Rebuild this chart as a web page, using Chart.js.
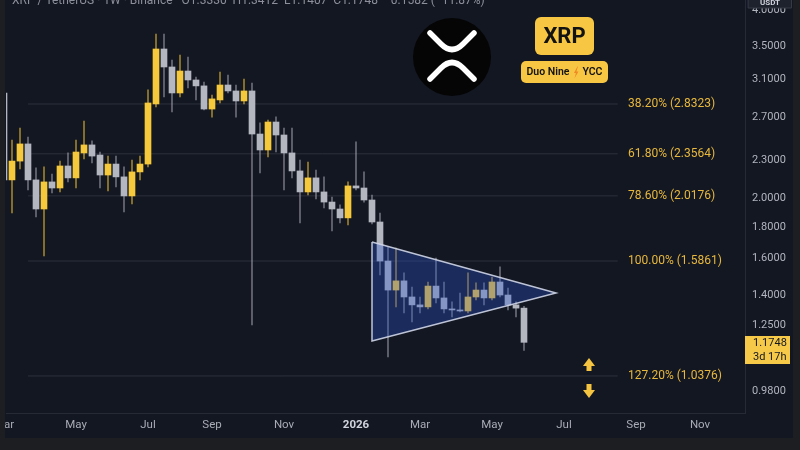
<!DOCTYPE html>
<html><head><meta charset="utf-8">
<script src="https://cdn.jsdelivr.net/npm/chart.js@4.4.1/dist/chart.umd.min.js"></script>
<style>html,body{margin:0;padding:0;background:#1d1e22;}canvas{display:block;}</style>
</head><body>
<canvas id="c" width="800" height="450"></canvas>
<script>
// ---------- DATA ----------
const weeks = [
 '2025-03-03','2025-03-10','2025-03-17','2025-03-24','2025-03-31','2025-04-07','2025-04-14','2025-04-21','2025-04-28',
 '2025-05-05','2025-05-12','2025-05-19','2025-05-26','2025-06-02','2025-06-09','2025-06-16','2025-06-23','2025-06-30',
 '2025-07-07','2025-07-14','2025-07-21','2025-07-28','2025-08-04','2025-08-11','2025-08-18','2025-08-25',
 '2025-09-01','2025-09-08','2025-09-15','2025-09-22','2025-09-29','2025-10-06','2025-10-13','2025-10-20','2025-10-27',
 '2025-11-03','2025-11-10','2025-11-17','2025-11-24','2025-12-01','2025-12-08','2025-12-15','2025-12-22','2025-12-29',
 '2026-01-05','2026-01-12','2026-01-19','2026-01-26','2026-02-02','2026-02-09','2026-02-16','2026-02-23',
 '2026-03-02','2026-03-09','2026-03-16','2026-03-23','2026-03-30','2026-04-06','2026-04-13','2026-04-20','2026-04-27',
 '2026-05-04','2026-05-11','2026-05-18','2026-05-25','2026-06-01'
];
const opens  = [2.950,2.140,2.294,2.444,2.140,1.922,2.124,2.077,2.253,2.156,2.364,2.435,2.346,2.179,2.269,2.164,2.017,2.204,2.269,2.833,3.470,3.247,2.950,3.199,3.095,3.028,2.780,2.875,3.038,2.972,2.864,2.972,2.535,2.390,2.650,2.526,2.364,2.212,2.047,2.156,2.047,1.972,1.922,1.860,2.093,2.077,1.987,1.832,1.586,1.425,1.474,1.389,1.349,1.339,1.446,1.384,1.329,1.324,1.319,1.389,1.425,1.384,1.468,1.399,1.349,1.3330];
const highs  = [2.990,2.480,2.592,2.507,2.237,2.245,2.187,2.294,2.364,2.480,2.660,2.471,2.372,2.337,2.337,2.245,2.303,2.337,2.983,3.667,3.667,3.332,3.394,3.369,3.129,3.072,2.928,3.187,3.152,3.038,3.106,3.061,2.641,2.670,2.700,2.592,2.592,2.303,2.286,2.220,2.164,2.009,1.951,2.124,2.462,2.204,2.024,1.894,1.670,1.664,1.518,1.441,1.389,1.468,1.604,1.468,1.364,1.409,1.518,1.463,1.463,1.495,1.552,1.436,1.364,1.3412];
const lows   = [2.050,1.894,2.228,2.062,1.867,1.616,2.039,2.047,2.124,2.077,2.312,2.278,2.077,2.054,2.085,1.901,1.958,2.140,2.245,2.802,2.907,2.750,2.907,3.005,2.875,2.770,2.699,2.843,2.950,2.699,2.833,1.253,2.196,2.329,2.372,2.062,2.156,1.826,2.024,1.994,1.929,1.772,1.826,1.812,2.062,1.972,1.819,1.507,1.113,1.339,1.309,1.267,1.309,1.329,1.359,1.309,1.290,1.314,1.309,1.374,1.349,1.374,1.389,1.324,1.290,1.1407];
const closes = [2.140,2.294,2.444,2.140,1.922,2.124,2.077,2.253,2.156,2.372,2.435,2.337,2.179,2.269,2.164,2.017,2.204,2.269,2.843,3.470,3.247,2.950,3.199,3.095,3.028,2.780,2.886,3.038,2.972,2.864,2.972,2.535,2.390,2.650,2.526,2.364,2.212,2.047,2.156,2.047,1.972,1.922,1.860,2.093,2.077,1.987,1.832,1.586,1.425,1.474,1.389,1.349,1.339,1.446,1.384,1.329,1.324,1.319,1.389,1.425,1.384,1.468,1.399,1.349,1.333,1.1748];

const axisTickDates  = ['2025-03-03','2025-05-05','2025-07-07','2025-09-01','2025-11-03','2026-01-05','2026-03-02','2026-05-04','2026-07-06','2026-09-07','2026-11-02'];
const axisTickLabels = ['Mar','May','Jul','Sep','Nov','2026','Mar','May','Jul','Sep','Nov'];
const priceTicks = [4.0,3.5,3.1,2.7,2.3,2.0,1.8,1.6,1.4,1.25,1.1,0.98];

const fibLevels = ['38.20%','61.80%','78.60%','100.00%','127.20%'];
const fibPrices = [2.8323,2.3564,2.0176,1.5861,1.0376];
const fibSpan = ['2025-03-24','2026-08-22'];

const triangleDates  = ['2026-01-19','2026-01-19','2026-06-29','2026-01-19'];
const trianglePrices = [1.701,1.181,1.409,1.701];

const lastPrice = '1.1748';
const timeLeft = '3d 17h';
const headerText = 'XRP / TetherUS · 1W · Binance   O1.3330  H1.3412  L1.1407  C1.1748  −0.1582 (−11.87%)';

// ---------- HELPERS ----------
const BASE = Date.parse('2025-03-10');
const wk = d => (Date.parse(d) - BASE) / (7 * 864e5);
const UP = '#f6c83b', DOWN = '#b4b7c0';
const UPW = 'rgba(246,200,59,0.6)', DOWNW = 'rgba(180,183,192,0.55)';
const isUp = i => closes[i] >= opens[i];
const FONT = 'Roboto, "Liberation Sans", sans-serif';

const bgPlugin = {
  id: 'bg',
  beforeDraw(chart) {
    const c = chart.ctx;
    c.save();
    c.fillStyle = '#1d1e22';
    c.fillRect(0, 0, 800, 450);
    c.fillStyle = '#131722';
    c.fillRect(5, 0, 788, 438);
    c.restore();
  }
};

const overlayPlugin = {
  id: 'overlay',
  afterDraw(chart) {
    const c = chart.ctx;
    const ys = chart.scales.y;
    c.save();
    // header (cut off at top)
    c.font = '12px ' + FONT;
    c.fillStyle = '#8d909a';
    c.textBaseline = 'alphabetic';
    c.textAlign = 'left';
    c.fillText(headerText, 12, 4);

    // fib labels
    c.font = '12px ' + FONT;
    c.fillStyle = '#e8b83c';
    c.textBaseline = 'middle';
    fibPrices.forEach((p, i) => {
      c.fillText(fibLevels[i] + ' (' + p.toFixed(4) + ')', 628, ys.getPixelForValue(p));
    });

    // arrows
    c.fillStyle = '#f5c542';
    c.beginPath(); c.moveTo(583, 366); c.lineTo(589, 358); c.lineTo(595, 366); c.closePath(); c.fill();
    c.fillRect(586.5, 365, 5, 6);
    c.beginPath(); c.moveTo(583, 390); c.lineTo(589, 398); c.lineTo(595, 390); c.closePath(); c.fill();
    c.fillRect(586.5, 384, 5, 7);

    // XRP logo
    c.fillStyle = '#050505';
    c.beginPath(); c.arc(452, 57, 39, 0, Math.PI * 2); c.fill();
    c.strokeStyle = '#ffffff';
    c.lineWidth = 5.5;
    c.lineCap = 'round';
    c.lineJoin = 'round';
    c.beginPath();
    c.moveTo(430, 33); c.lineTo(441, 44); c.quadraticCurveTo(452, 55, 463, 44); c.lineTo(474, 33);
    c.stroke();
    c.beginPath();
    c.moveTo(430, 79); c.lineTo(441, 68); c.quadraticCurveTo(452, 57, 463, 68); c.lineTo(474, 79);
    c.stroke();

    // badges
    const rr = (x, y, w, h, r) => { c.beginPath(); c.roundRect(x, y, w, h, r); c.fill(); };
    c.fillStyle = '#f7c744';
    rr(535, 17, 59, 38, 6);
    rr(521, 61, 87, 22, 5);
    c.fillStyle = '#121212';
    c.textAlign = 'center';
    c.textBaseline = 'middle';
    c.font = 'bold 22px ' + FONT;
    c.fillText('XRP', 564.5, 37);
    c.font = '600 10.5px ' + FONT;
    c.textAlign = 'left';
    const t1 = 'Duo Nine', t2 = 'YCC';
    const w1 = c.measureText(t1).width, w2 = c.measureText(t2).width;
    const gap = 13;
    const total = w1 + gap + w2;
    const sx = 564.5 - total / 2;
    c.fillText(t1, sx, 72.5);
    c.fillText(t2, sx + w1 + gap, 72.5);
    // lightning
    const bx = sx + w1 + gap / 2;
    c.fillStyle = '#f08a24';
    c.beginPath();
    c.moveTo(bx + 1.5, 66.5); c.lineTo(bx - 2, 73); c.lineTo(bx, 73); c.lineTo(bx - 1.5, 78.5);
    c.lineTo(bx + 2.5, 71.5); c.lineTo(bx + 0.5, 71.5); c.lineTo(bx + 2, 66.5); c.closePath(); c.fill();

    // last price label
    c.fillStyle = '#f7c948';
    c.fillRect(745, 336, 45, 28);
    c.fillStyle = '#131722';
    c.font = '11px ' + FONT;
    c.textAlign = 'left';
    c.fillText(lastPrice, 753, 343.5);
    c.fillText(timeLeft, 753, 357);

    // USDT box
    c.fillStyle = '#1e222d';
    c.fillRect(748, -2, 44, 10);
    c.strokeStyle = '#363a45';
    c.lineWidth = 1;
    c.strokeRect(748.5, -2, 43, 10);
    c.fillStyle = '#d1d4dc';
    c.font = 'bold 8px ' + FONT;
    c.textAlign = 'center';
    c.textBaseline = 'alphabetic';
    c.fillText('USDT', 770, 5);

    // outer frame strip on the left edge
    c.fillStyle = '#1d1e22';
    c.fillRect(0, 0, 5, 450);
    c.restore();
  }
};

new Chart(document.getElementById('c'), {
  type: 'bar',
  data: {
    datasets: [
      {
        type: 'line',
        data: triangleDates.map((d, i) => ({ x: wk(d), y: trianglePrices[i] })),
        borderColor: 'rgba(208,214,232,0.9)', borderWidth: 1.5,
        backgroundColor: 'rgba(45,85,205,0.34)', fill: 'shape',
        pointRadius: 0, tension: 0, order: 0
      },
      {
        data: weeks.map((d, i) => ({ x: wk(d), y: [opens[i], closes[i]] })),
        backgroundColor: c => isUp(c.dataIndex) ? UP : DOWN,
        barThickness: 6, borderWidth: 0, minBarLength: 1, grouped: false, order: 1, clip: 0
      },
      {
        data: weeks.map((d, i) => ({ x: wk(d), y: [lows[i], highs[i]] })),
        backgroundColor: c => isUp(c.dataIndex) ? UPW : DOWNW,
        barThickness: 1, borderWidth: 0, grouped: false, order: 2, clip: 0
      },
      ...fibPrices.map(p => ({
        type: 'line',
        data: [{ x: wk(fibSpan[0]), y: p }, { x: wk(fibSpan[1]), y: p }],
        borderColor: '#2c303c', borderWidth: 1, pointRadius: 0, fill: false, order: 3
      }))
    ]
  },
  options: {
    responsive: false, animation: false, devicePixelRatio: 1,
    layout: { padding: { left: 6, right: 7, top: 0, bottom: 12 } },
    plugins: { legend: { display: false }, tooltip: { enabled: false } },
    scales: {
      x: {
        type: 'linear', min: -0.75, max: 91.625, offset: false, bounds: 'data',
        grid: { display: false, drawTicks: false, offset: false },
        border: { display: true, color: '#262a35' },
        afterBuildTicks: s => { s.ticks = axisTickDates.map(d => ({ value: wk(d) })); },
        afterFit: s => { s.height = 25; s.paddingLeft = 0; s.paddingRight = 0; },
        ticks: {
          autoSkip: false, maxRotation: 0, minRotation: 0, padding: 5,
          callback: (v, i) => axisTickLabels[i],
          color: c => axisTickLabels[c.index] === '2026' ? '#d1d4dc' : '#a9acb5',
          font: c => ({ family: FONT, size: 11.5, weight: axisTickLabels[c.index] === '2026' ? 'bold' : 'normal' })
        }
      },
      y: {
        type: 'logarithmic', position: 'right', min: 0.905, max: 4.158,
        grid: { display: false, drawTicks: false },
        border: { display: true, color: '#262a35' },
        afterBuildTicks: s => { s.ticks = priceTicks.map(v => ({ value: v })); },
        afterFit: s => { s.width = 48; s.paddingTop = 0; s.paddingBottom = 0; },
        ticks: {
          padding: 7, color: '#b2b5be', font: { family: FONT, size: 11 },
          callback: v => Number(v).toFixed(4)
        }
      }
    }
  },
  plugins: [bgPlugin, overlayPlugin]
});
</script>
</body></html>
